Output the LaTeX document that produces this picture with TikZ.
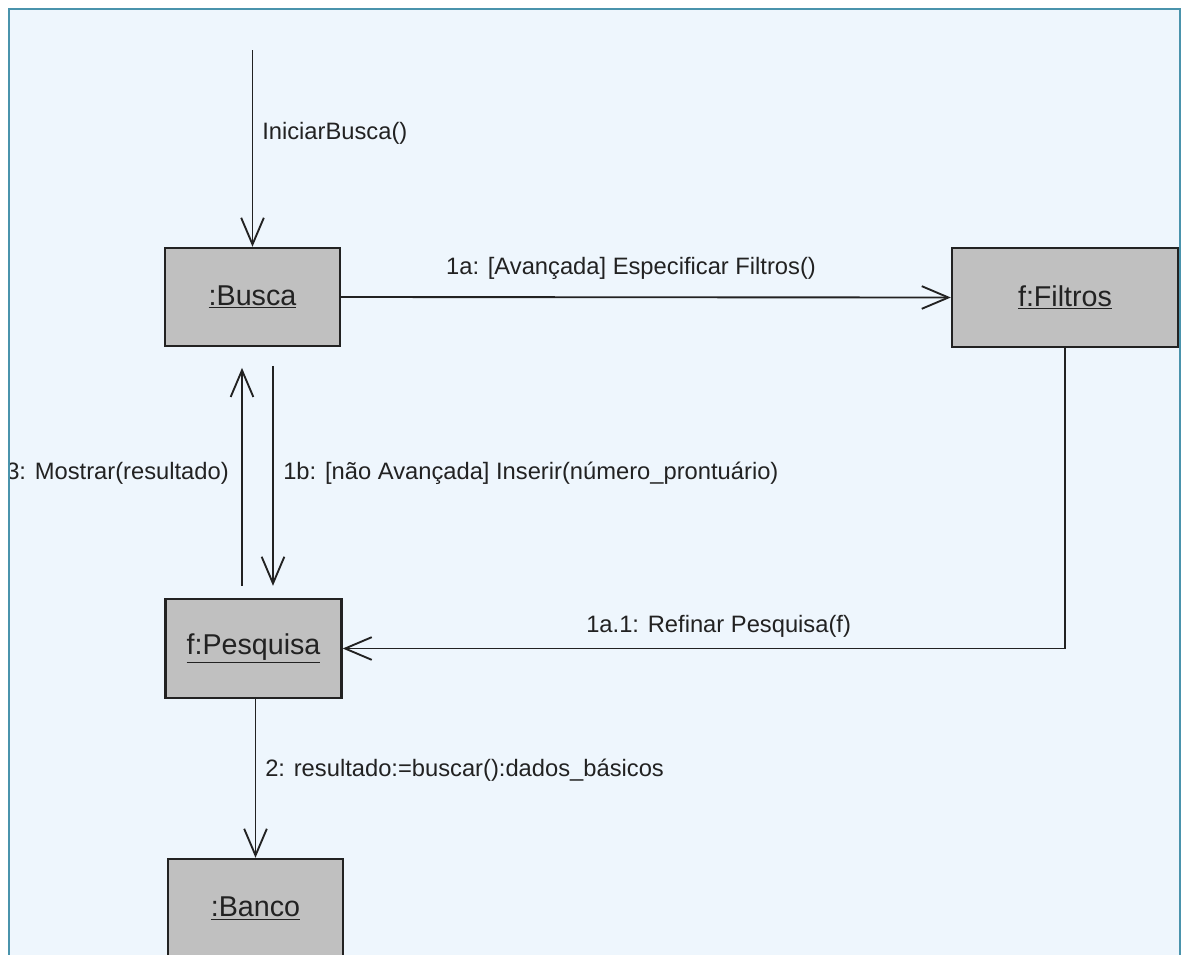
\documentclass[tikz,border=0pt]{standalone}
\usepackage{fontspec}
\setmainfont{Liberation Sans}
\usetikzlibrary{arrows.meta,calc}
\definecolor{bgblue}{HTML}{EEF6FD}
\definecolor{frameteal}{HTML}{4A93AC}
\definecolor{boxgray}{HTML}{C0C0C0}
\definecolor{ink}{HTML}{222222}
\newcommand{\objname}[1]{\setbox0\hbox{#1}\rlap{\usebox0}\rule[-3pt]{\wd0}{1.3pt}}
\tikzset{
  obj/.style={draw=ink, fill=boxgray, line width=1.8pt, rectangle, inner sep=0pt,
    font=\fontsize{21.5}{24}\selectfont, text=ink},
  msg/.style={draw=ink, line width=1.4pt, -{Straight Barb[length=20pt,width=17pt,line width=1.4pt]}},
  lbl/.style={font=\fontsize{17.8}{20}\selectfont, text=ink, inner sep=0pt}
}
\begin{document}
\begin{tikzpicture}[x=0.75pt,y=-0.75pt]
\useasboundingbox (0,0) rectangle (1181,954);
\fill[white] (0,0) rectangle (1181,954);
\fill[bgblue] (9,9) rectangle (1180,960);
\begin{scope}
\clip (9,9) rectangle (1180,954);
\node[obj, minimum width=175*0.75pt, minimum height=98*0.75pt] (Busca) at (252.5,297) {\underline{:Busca}};
\node[obj, minimum width=226*0.75pt, minimum height=99*0.75pt] (Filtros) at (1065,297.5) {\underline{f:Filtros}};
\node[obj, minimum width=176*0.75pt, minimum height=99*0.75pt] (Pesquisa) at (253.5,648.5) {\underline{f:Pesquisa}};
\node[obj, minimum width=175*0.75pt, minimum height=99*0.75pt] (Banco) at (255.5,908.5) {\underline{:Banco}};
\coordinate (start) at (252.5,50);
% connectors
\draw[msg] (start) -- (Busca.north);
\draw[msg] (Busca.east) -- (Filtros.west);
\draw[msg, shorten <=9pt, shorten >=15.5pt] ($(Pesquisa.north)+(-11.5,0)$) -- ($(Busca.south)+(-10.5,0)$);
\draw[msg, shorten <=14pt, shorten >=9pt] ($(Busca.south)+(20.5,0)$) -- ($(Pesquisa.north)+(19.5,0)$);
\draw[msg] (Filtros.south) |- (Pesquisa.east);
\draw[msg] (Pesquisa.south -| Banco.north) -- (Banco.north);
% labels
\node[lbl, anchor=west] (lInit) at (262,133) {IniciarBusca()};
\node[lbl] (l1a) at (631,268) {1a: [Avançada] Especificar Filtros()};
\node[lbl, anchor=east] (l3) at (229,473) {3: Mostrar(resultado)};
\node[lbl, anchor=west] (l1b) at (283,473) {1b: [não Avançada] Inserir(número\_prontuário)};
\node[lbl, anchor=west] (l1a1) at (586,626) {1a.1: Refinar Pesquisa(f)};
\node[lbl, anchor=west] (l2) at (265,770) {2: resultado:=buscar():dados\_básicos};
\end{scope}
\draw[frameteal, line width=1.6pt] (9,970) -- (9,9) -- (1180,9) -- (1180,970);
\end{tikzpicture}
\end{document}
